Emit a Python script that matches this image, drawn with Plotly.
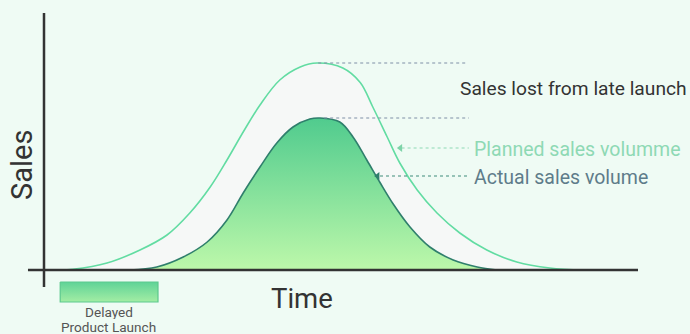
import plotly.graph_objects as go

# Time (t) and sales (s) values
planned_t = [2.7, 4.8, 10.5, 16.0, 20.5, 24.3, 27.7, 30.5, 33.2, 36.0, 39.3, 42.7, 45.5,
             49.8, 52.7, 54.8, 57.2, 59.3, 62.2, 65.5, 69.3, 73.8, 78.8, 84.3, 90.0]
planned_s = [0.0, 0.3, 2.8, 8.0, 14.0, 22.8, 33.2, 44.0, 55.2, 66.0, 76.0, 81.2, 82.8,
             80.8, 75.0, 65.2, 53.2, 42.8, 32.0, 22.8, 14.8, 8.0, 3.2, 0.8, 0.0]

actual_t = [14.3, 18.8, 23.2, 27.2, 30.5, 33.2, 36.0, 38.8, 41.5, 44.3, 46.0,
            49.3, 51.5, 53.8, 56.0, 58.2, 61.0, 64.3, 68.2, 72.2, 75.5]
actual_s = [0.0, 1.2, 5.2, 11.2, 20.0, 30.8, 41.2, 50.8, 57.2, 60.4, 60.8,
            59.2, 53.2, 44.0, 35.0, 26.4, 17.2, 9.2, 4.0, 1.2, 0.0]

planned_peak = 82.8
actual_peak = 60.8
peak_t = 45.7
label_t = 70.8

launch_start, launch_end = 2.7, 19.0

FONT = "Roboto"

fig = go.Figure()

# Planned sales area (light grey)
fig.add_trace(go.Scatter(
    x=planned_t, y=planned_s, mode="lines",
    line=dict(color="#62DCA2", width=1.6, shape="spline", smoothing=1.0),
    fill="tozeroy", fillcolor="#F6F8F7", hoverinfo="skip", showlegend=False,
))

# Actual sales area (green gradient)
fig.add_trace(go.Scatter(
    x=actual_t, y=actual_s, mode="lines",
    line=dict(color="#2F7F6C", width=1.6, shape="spline", smoothing=1.0),
    fill="tozeroy",
    fillgradient=dict(type="vertical", start=0, stop=actual_peak,
                      colorscale=[[0, "#BDF8AA"], [1, "#50CB8E"]]),
    hoverinfo="skip", showlegend=False,
))

# Dotted peak reference lines
fig.add_trace(go.Scatter(
    x=[peak_t, label_t - 0.3], y=[planned_peak, planned_peak], mode="lines",
    line=dict(color="#7F8FA6", width=1, dash="dot"), hoverinfo="skip", showlegend=False,
))
fig.add_trace(go.Scatter(
    x=[peak_t + 1.0, label_t], y=[actual_peak, actual_peak], mode="lines",
    line=dict(color="#7F8FA6", width=1, dash="dot"), hoverinfo="skip", showlegend=False,
))

# Arrows to labels
planned_arrow_s = 48.8
actual_arrow_s = 37.6
fig.add_trace(go.Scatter(
    x=[59.6, label_t], y=[planned_arrow_s, planned_arrow_s], mode="lines",
    line=dict(color="#8ED9B4", width=1.2, dash="dot"), hoverinfo="skip", showlegend=False,
))
fig.add_trace(go.Scatter(
    x=[59.4], y=[planned_arrow_s], mode="markers",
    marker=dict(symbol="triangle-left", size=7, color="#7ED3A8"),
    hoverinfo="skip", showlegend=False,
))
fig.add_trace(go.Scatter(
    x=[56.0, label_t], y=[actual_arrow_s, actual_arrow_s], mode="lines",
    line=dict(color="#3F8C7A", width=1.2, dash="dot"), hoverinfo="skip", showlegend=False,
))
fig.add_trace(go.Scatter(
    x=[55.6], y=[actual_arrow_s], mode="markers",
    marker=dict(symbol="triangle-left", size=7, color="#2F7F6C"),
    hoverinfo="skip", showlegend=False,
))

# Delayed launch box (gradient)
fig.add_trace(go.Scatter(
    x=[launch_start, launch_end, launch_end, launch_start, launch_start],
    y=[-4.8, -4.8, -12.8, -12.8, -4.8], mode="lines",
    line=dict(color="#5CC98D", width=1.2),
    fill="toself",
    fillgradient=dict(type="vertical", start=-12.8, stop=-4.8,
                      colorscale=[[0, "#A3EDA4"], [1, "#5FD397"]]),
    hoverinfo="skip", showlegend=False,
))

# Axis lines
fig.add_shape(type="line", x0=-2.67, x1=99.0, y0=0, y1=0,
              line=dict(color="#333333", width=2.5), layer="above")
fig.add_shape(type="line", x0=0, x1=0, y0=-6.8, y1=102.8,
              line=dict(color="#333333", width=2.5), layer="above")

annotations = [
    dict(x=69.0, y=72.8, text="Sales lost from late launch", xanchor="left",
         font=dict(size=19.2, color="#333333", family=FONT)),
    dict(x=71.3, y=48.4, text="Planned sales volumme", xanchor="left",
         font=dict(size=19.5, color="#8ED9B4", family=FONT)),
    dict(x=71.3, y=37.2, text="Actual sales volume", xanchor="left",
         font=dict(size=19.5, color="#5E7C8A", family=FONT)),
    dict(x=-3.67, y=42, text="Sales", textangle=-90,
         font=dict(size=29, color="#333333", family=FONT)),
    dict(x=43.0, y=-11.2, text="Time",
         font=dict(size=27.5, color="#333333", family=FONT)),
    dict(x=10.8, y=-16.4, text="Delayed", height=15, borderpad=0,
         font=dict(size=13.6, color="#555555", family=FONT)),
    dict(x=10.8, y=-22.4, text="Product Launch", height=15, borderpad=0,
         font=dict(size=13.6, color="#555555", family=FONT)),
]
for a in annotations:
    a.update(showarrow=False, xref="x", yref="y")

fig.update_layout(
    width=690, height=334,
    margin=dict(l=0, r=0, t=0, b=0),
    paper_bgcolor="#EFFBF4", plot_bgcolor="#EFFBF4",
    xaxis=dict(range=[-44 / 6, 646 / 6], visible=False, fixedrange=True),
    yaxis=dict(range=[-25.6, 108], visible=False, fixedrange=True),
    annotations=annotations,
    font=dict(family=FONT),
)

fig.write_html("out.html")
